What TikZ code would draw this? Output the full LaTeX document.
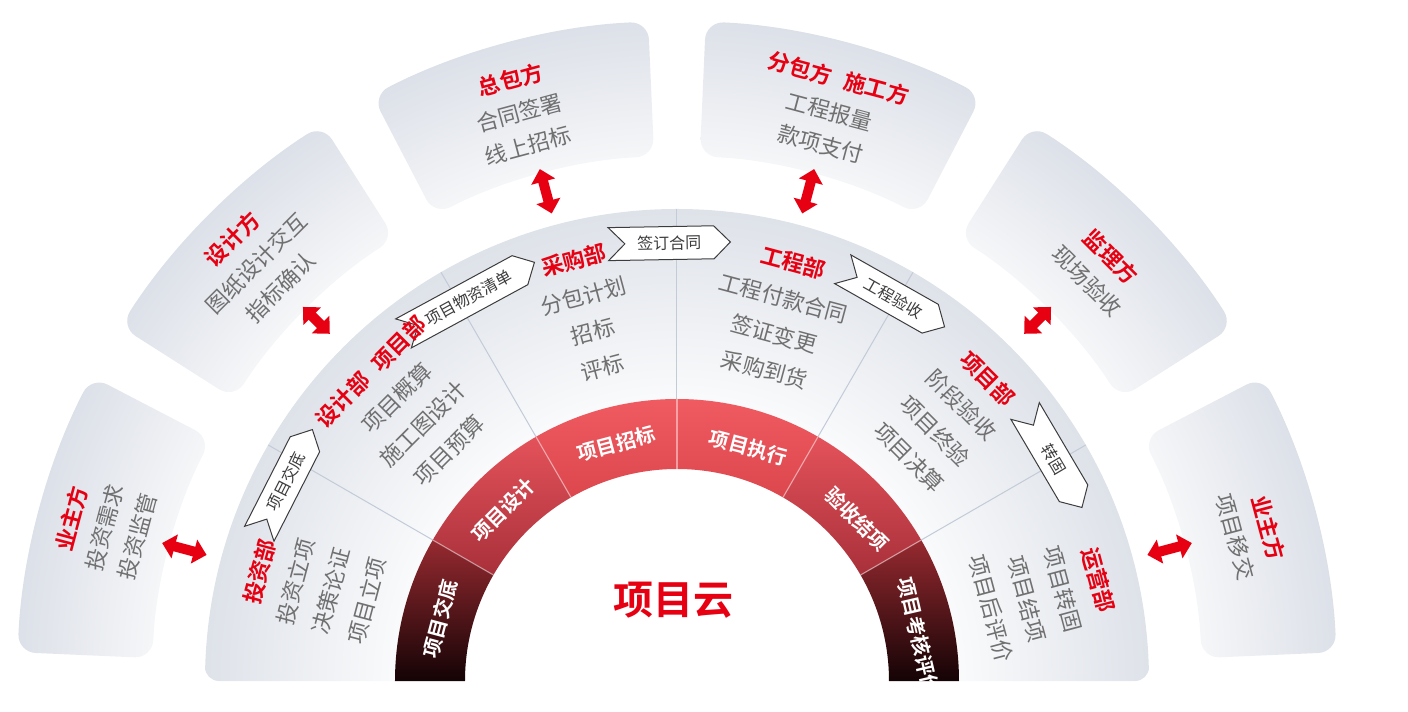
\documentclass[tikz,border=0pt]{standalone}
\usepackage{fontspec}
\setmainfont{Noto Sans CJK SC}[BoldFont={Noto Sans CJK SC Bold}]
\usetikzlibrary{positioning,shapes.symbols,arrows.meta}

\definecolor{cred}{HTML}{E60012}
\definecolor{ctext}{HTML}{707070}
\definecolor{ctag}{HTML}{3C3C3C}
\definecolor{ctilein}{HTML}{F5F6F8}
\definecolor{ctileout}{HTML}{DCE0E8}
\definecolor{cfanout}{HTML}{DEE2E9}
\definecolor{cline}{HTML}{C3CBD8}
\definecolor{ringtop}{HTML}{F05A61}
\definecolor{ringtopbot}{HTML}{DC474E}
\definecolor{ringmidtop}{HTML}{E4525A}
\definecolor{ringmidbot}{HTML}{A8303A}
\definecolor{ringlo}{HTML}{962A30}
\definecolor{ringbot}{HTML}{140305}

\pgfdeclareradialshading{tileshade}{\pgfpoint{0bp}{0bp}}{color(0bp)=(ctilein); color(19.9bp)=(ctilein); color(25bp)=(ctileout); color(50bp)=(ctileout)}
\pgfdeclareradialshading{fanshade}{\pgfpoint{0bp}{0bp}}{color(0bp)=(white); color(13bp)=(white); color(25bp)=(cfanout); color(50bp)=(cfanout)}

\newcommand{\redhead}[1]{\textcolor{cred}{\bfseries #1}}

\tikzset{
  handoff/.style={signal, signal from=west, signal to=east, draw=ctag, fill=white,
    line width=0.5pt, minimum height=16.5pt, inner xsep=5pt, inner ysep=0pt,
    text=ctag, font=\fontsize{8pt}{9pt}\selectfont},
  red arrow/.style={draw=cred, line width=5pt,
    {Triangle[width=12pt,length=6.5pt]}-{Triangle[width=12pt,length=6.5pt]}}
}

\begin{document}
\begin{tikzpicture}[x=0.5pt,y=0.5pt]
    \useasboundingbox (-677,-31) rectangle (731,681);
    %%%%% THE OUTER TILES
    \foreach \m [evaluate=\m as \lo using \m-12.5, evaluate=\m as \hi using \m+12.5] in {165,135,105,75,45,15}{
      \begin{scope}
        \clip[rounded corners=9pt] (\lo:525) arc[start angle=\lo, end angle=\hi, radius=525]
          -- (\hi:660) arc[start angle=\hi, end angle=\lo, radius=660] -- cycle;
        \shade[shading=tileshade] (0,0) circle (662);
      \end{scope}
    }
    %%%%% THE FAN
    \begin{scope}
      \clip[rounded corners=7pt] (-472,0) arc[start angle=180, end angle=0, radius=472] -- cycle;
      \shade[shading=fanshade] (0,0) circle (472);
    \end{scope}
    \foreach \a in {30,60,...,150}
      \draw[cline, line width=0.5pt] (\a:282) -- (\a:472);
    %%%%% THE RING
    \foreach \a/\tc/\bc in {0/ringlo/ringbot, 30/ringmidtop/ringmidbot, 60/ringtop/ringtopbot,
        90/ringtop/ringtopbot, 120/ringmidtop/ringmidbot, 150/ringlo/ringbot}
      \shade[top color=\tc, bottom color=\bc] (\a:212) -- (\a:282)
        arc[start angle=\a, end angle=\a+30, radius=282] -- (\a+30:212)
        arc[start angle=\a+30, end angle=\a, radius=212] -- cycle;
    \foreach \a in {30,60,...,150}
      \draw[white, opacity=0.45, line width=0.6pt] (\a:212) -- (\a:282);
    \begin{scope}[every node/.style={text=white, inner sep=0pt, font=\bfseries\fontsize{10pt}{12pt}\selectfont}]
      \clip (-480,0) rectangle (480,300);
      \node[rotate=75]  (STAGE-1) at (165.3:245) {项目交底};
      \node[rotate=45]  (STAGE-2) at (135.5:244) {项目设计};
      \node[rotate=15]  (STAGE-3) at (104.4:245) {项目招标};
      \node[rotate=-15] (STAGE-4) at (73:244)    {项目执行};
      \node[rotate=-45] (STAGE-5) at (42:242)    {验收结项};
      \node[rotate=-77] (STAGE-6) at (10.5:246)  {项目考核评价};
    \end{scope}
    \node[text=cred, font=\bfseries\fontsize{20pt}{24pt}\selectfont] (CLOUD) at (-3,81) {项目云};
    %%%%% THE HANDOFF TAGS
    \node[handoff, rotate=63, minimum width=53pt]    (TAG-1) at (153:439)   {项目交底};
    \node[handoff, rotate=28.5, minimum width=61pt]  (TAG-2) at (118.5:436) {项目物资清单};
    \node[handoff, rotate=1, minimum width=61pt]     (TAG-3) at (91:438)    {签订合同};
    \node[handoff, rotate=-29.5, minimum width=57pt] (TAG-4) at (60.5:440)  {工程验收};
    \node[handoff, rotate=-59.5, minimum width=56pt] (TAG-5) at (30.5:437)  {转固};
    %%%%% THE DEPARTMENTS
    \begin{scope}[every node/.style={align=center, text=ctext, inner sep=0pt, font=\fontsize{11pt}{18.5pt}\selectfont}]
      \node[rotate=75]  (DEPT-1) at (165.4:376) {\redhead{投资部}\\投资立项\\决策论证\\项目立项};
      \node[rotate=45]  (DEPT-2) at (134.7:380) {\redhead{设计部\hspace{0.6em}项目部}\\项目概算\\施工图设计\\项目预算};
      \node[rotate=15]  (DEPT-3) at (103.6:378) {\redhead{采购部}\\分包计划\\招标\\评标};
      \node[rotate=-15] (DEPT-4) at (74.4:379)  {\redhead{工程部}\\工程付款合同\\签证变更\\采购到货};
      \node[rotate=-45] (DEPT-5) at (44.1:378)  {\redhead{项目部}\\阶段验收\\项目终验\\项目决算};
      \node[rotate=-75] (DEPT-6) at (13.3:378)  {\redhead{运营部}\\项目转固\\项目结项\\项目后评价};
    \end{scope}
    %%%%% THE PARTIES
    \begin{scope}[every node/.style={align=center, text=ctext, inner sep=0pt, font=\fontsize{11pt}{17pt}\selectfont}]
      \node[rotate=75]  (PARTY-1) at (165:593)   {\redhead{业主方}\\投资需求\\投资监管};
      \node[rotate=45]  (PARTY-2) at (135.2:593) {\redhead{设计方}\\图纸设计交互\\指标确认};
      \node[rotate=15]  (PARTY-3) at (105.5:590) {\redhead{总包方}\\合同签署\\线上招标};
      \node[rotate=-15] (PARTY-4) at (75:590)    {\redhead{分包方\hspace{0.6em}施工方}\\工程报量\\款项支付};
      \node[rotate=-45] (PARTY-5) at (44.3:590)  {\redhead{监理方}\\现场验收};
      \node[rotate=-75] (PARTY-6) at (14.5:594)  {\redhead{业主方}\\项目移交};
    \end{scope}
    %%%%% LINKS FROM THE FAN TO THE TILES
    \foreach \m/\rin/\rout [count=\i] in {165/487/533, 135/491/529, 105/484/530,
        75/484/530, 45/491/529, 15/487/533}{
      \coordinate (FAN-\i) at (\m:\rin);
      \coordinate (TILE-\i) at (\m:\rout);
      \draw[red arrow] (FAN-\i) -- (TILE-\i);
    }
\end{tikzpicture}
\end{document}
